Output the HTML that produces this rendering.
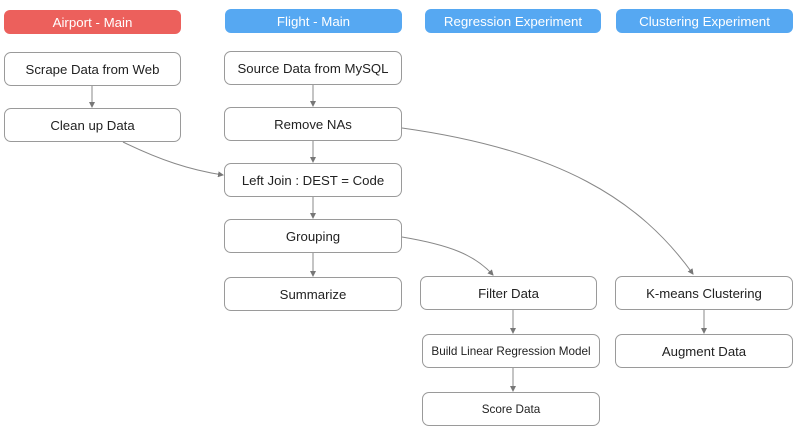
<!DOCTYPE html>
<html><head><style>
body{margin:0;width:800px;height:432px;background:#fff;position:relative;overflow:hidden;font-family:"Liberation Sans",sans-serif;}
.b{position:absolute;box-sizing:border-box;border:1px solid #9a9a9a;border-radius:7px;display:flex;align-items:center;justify-content:center;font-size:13.2px;color:#222;background:#fff;}
.h{position:absolute;box-sizing:border-box;border-radius:6px;display:flex;align-items:center;justify-content:center;font-size:13.3px;color:#fff;}
svg{position:absolute;left:0;top:0;}
</style></head><body>
<div class="h" style="left:4px;top:10px;width:177px;height:24px;background:#ec605c">Airport - Main</div>
<div class="h" style="left:225px;top:9px;width:177px;height:24px;background:#56a8f2">Flight - Main</div>
<div class="h" style="left:425px;top:9px;width:176px;height:24px;background:#56a8f2">Regression Experiment</div>
<div class="h" style="left:616px;top:9px;width:177px;height:24px;background:#56a8f2">Clustering Experiment</div>

<div class="b" style="left:4px;top:52px;width:177px;height:34px">Scrape Data from Web</div>
<div class="b" style="left:4px;top:108px;width:177px;height:34px">Clean up Data</div>
<div class="b" style="left:224px;top:51px;width:178px;height:34px">Source Data from MySQL</div>
<div class="b" style="left:224px;top:107px;width:178px;height:34px">Remove NAs</div>
<div class="b" style="left:224px;top:163px;width:178px;height:34px">Left Join : DEST = Code</div>
<div class="b" style="left:224px;top:219px;width:178px;height:34px">Grouping</div>
<div class="b" style="left:224px;top:277px;width:178px;height:34px">Summarize</div>
<div class="b" style="left:420px;top:276px;width:177px;height:34px">Filter Data</div>
<div class="b" style="left:422px;top:334px;width:178px;height:34px;font-size:11.7px">Build Linear Regression Model</div>
<div class="b" style="left:422px;top:392px;width:178px;height:34px;font-size:11.7px">Score Data</div>
<div class="b" style="left:615px;top:276px;width:178px;height:34px">K-means Clustering</div>
<div class="b" style="left:615px;top:334px;width:178px;height:34px">Augment Data</div>

<svg width="800" height="432">
<defs><marker id="a" markerWidth="6" markerHeight="6" refX="5" refY="3" orient="auto"><path d="M0,0L6,3L0,6z" fill="#777"/></marker></defs>
<g stroke="#888" fill="none" stroke-width="1" marker-end="url(#a)">
<path d="M92,86V107"/>
<path d="M313,85V106"/>
<path d="M313,141V162"/>
<path d="M313,197V218"/>
<path d="M313,253V276"/>
<path d="M513,310V333"/>
<path d="M513,368V391"/>
<path d="M704,310V333"/>
<path d="M123,142C160,160 190,170 223,175"/>
<path d="M402,128C560,150 640,200 693,274"/>
<path d="M402,237C450,245 475,255 493,275"/>
</g>
</svg>
</body></html>
